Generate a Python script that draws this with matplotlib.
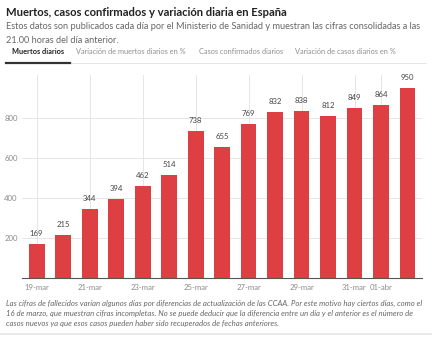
import matplotlib.pyplot as plt
from matplotlib.lines import Line2D

dates = ['19-mar', '20-mar', '21-mar', '22-mar', '23-mar', '24-mar', '25-mar', '26-mar',
         '27-mar', '28-mar', '29-mar', '30-mar', '31-mar', '01-abr', '02-abr']
muertos = [169, 215, 344, 394, 462, 514, 738, 655, 769, 832, 838, 812, 849, 864, 950]
tick_labels = ['19-mar', '21-mar', '23-mar', '25-mar', '27-mar', '29-mar', '31-mar', '01-abr']
y_ticks = [200, 400, 600, 800]
tabs = ['Muertos diarios', 'Variación de muertos diarios en %',
        'Casos confirmados diarios', 'Variación de casos diarios en %']

plt.rcParams['font.family'] = ['Lato', 'DejaVu Sans']
RED = '#de3f43'
GREY = '#8a8a8a'

fig = plt.figure(figsize=(4.32, 3.37), dpi=100)
ax = fig.add_axes([0.051, 0.175, 0.926, 0.602])

x = list(range(len(dates)))
ax.bar(x, muertos, width=0.6, color=RED, zorder=2)
for xi, v in zip(x, muertos):
    ax.annotate(str(v), (xi, v), xytext=(0, 5), textcoords='offset points',
                ha='center', va='bottom', fontsize=5.6, color='#444444')

ax.set_xlim(-0.55, len(dates) - 0.45)
ax.set_ylim(0, 1015)
ax.set_yticks(y_ticks)
ax.set_yticklabels([str(t) for t in y_ticks])
ax.set_xticks([dates.index(d) for d in tick_labels])
ax.set_xticklabels(tick_labels)
ax.tick_params(axis='both', length=0, labelsize=5.6, labelcolor=GREY)
ax.tick_params(axis='x', pad=4)
ax.tick_params(axis='y', pad=3)
ax.grid(True, color='#e2e2e2', linewidth=0.6, zorder=0)
for s in ['top', 'right', 'left']:
    ax.spines[s].set_visible(False)
ax.spines['bottom'].set_color('#555555')
ax.spines['bottom'].set_linewidth(0.8)

# header
fig.text(0.014, 0.964, 'Muertos, casos confirmados y variación diaria en España',
         fontsize=8.1, fontweight='bold', color='#222222', va='center')
fig.text(0.014, 0.92, 'Estos datos son publicados cada día por el Ministerio de Sanidad y muestran las cifras consolidadas a las',
         fontsize=6.6, color='#666666', va='center')
fig.text(0.014, 0.881, '21.00 horas del día anterior.', fontsize=6.6, color='#666666', va='center')

tab_x = [0.028, 0.176, 0.46, 0.683]
for i, (tx, t) in enumerate(zip(tab_x, tabs)):
    fig.text(tx, 0.846, t, fontsize=5.3, va='center',
             color='#222222' if i == 0 else '#8f8f8f',
             fontweight='bold' if i == 0 else 'normal')
fig.add_artist(Line2D([0.014, 0.985], [0.814, 0.814], color='#e0e0e0', linewidth=0.6))
fig.add_artist(Line2D([0.014, 0.162], [0.814, 0.814], color='#333333', linewidth=1.6))

# footnote
note = ('Las cifras de fallecidos varían algunos días por diferencias de actualización de las CCAA. Por este motivo hay ciertos días, como el\n'
        '16 de marzo, que muestran cifras incompletas. No se puede deducir que la diferencia entre un día y el anterior es el número de\n'
        'casos nuevos ya que esos casos pueden haber sido recuperados de fechas anteriores.')
fig.text(0.014, 0.111, note, fontsize=5.6, style='italic', color='#666666',
         va='top', linespacing=1.5)
fig.add_artist(Line2D([0.0, 1.0], [0.008, 0.008], color='#e6e6e6', linewidth=1.2))

fig.savefig('out.png', dpi=100, facecolor='white')
